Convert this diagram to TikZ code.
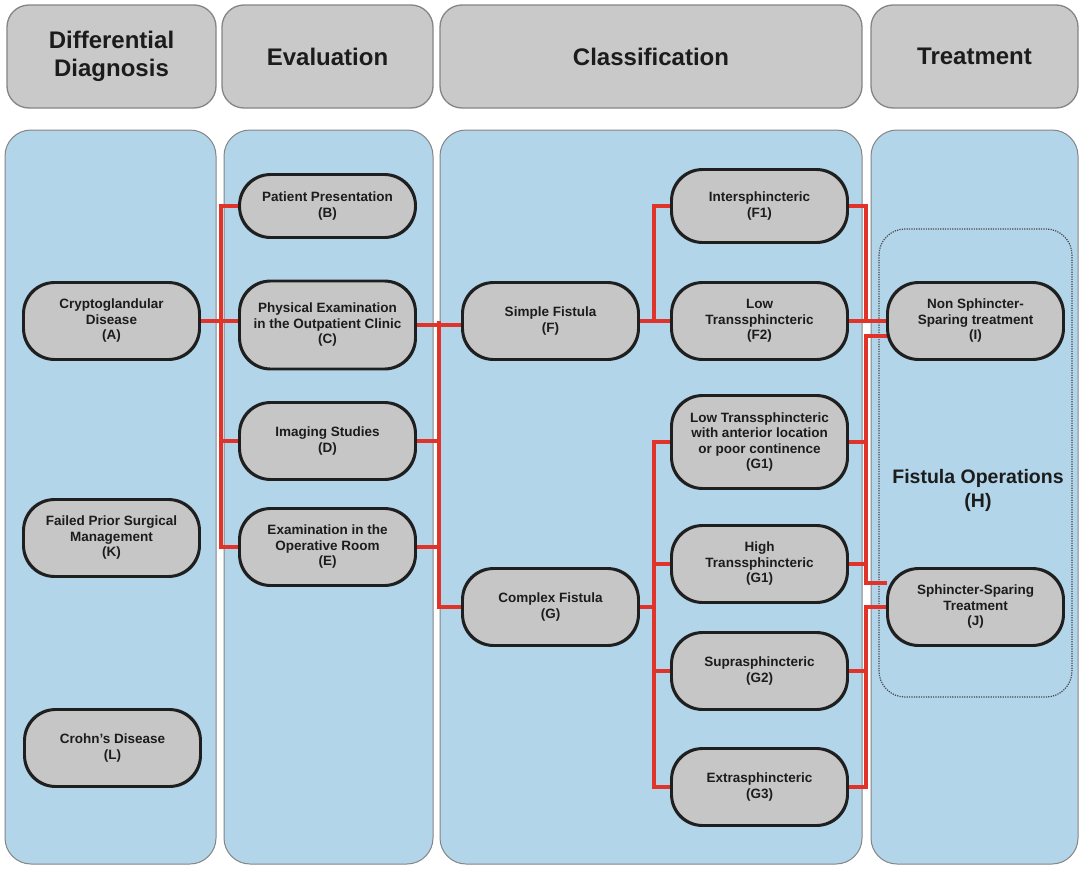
\documentclass[tikz,border=0pt]{standalone}
\usepackage{fontspec}
\setmainfont{Liberation Sans}
\usetikzlibrary{calc}
\definecolor{panelblue}{HTML}{B2D5EA}
\definecolor{panelline}{HTML}{858585}
\definecolor{boxgray}{HTML}{C6C6C6}
\definecolor{headgray}{HTML}{C9C9C9}
\definecolor{linkred}{HTML}{E0332A}
\definecolor{inkdark}{HTML}{1C1C1C}
\begin{document}
\begin{tikzpicture}[x=1pt,y=-1pt,
  header/.style={draw=panelline, line width=1.3pt, fill=headgray, rounded corners=22pt,
    minimum height=103pt, align=center, inner sep=0pt, text=inkdark,
    font=\fontsize{24}{28}\selectfont\bfseries},
  panel/.style={draw=panelline, line width=1pt, fill=panelblue, rounded corners=26pt},
  boxline/.style={draw=black!88, line width=1.9pt, rounded corners=31pt},
  item/.style={boxline, fill=boxgray,
    minimum width=175pt, minimum height=76pt, align=center, inner sep=0pt, text=inkdark,
    font=\fontsize{13.5}{15.5}\selectfont\bfseries},
  group/.style={draw=black!72, line width=1.2pt, dash pattern=on 1.2pt off 1.2pt, rounded corners=26pt},
  link/.style={draw=linkred, line width=3.5pt, line join=miter},
]
\useasboundingbox (0,0) rectangle (1081,870);
\fill[white] (0,0) rectangle (1081,870);

% column headings
\node[header, minimum width=209pt] (hdiag)  at (111.5,56.5) {Differential\\Diagnosis};
\node[header, minimum width=211pt] (heval)  at (327.5,56.5) {Evaluation};
\node[header, minimum width=422pt] (hclass) at (651,56.5)   {Classification};
\node[header, minimum width=207pt] (htreat) at (974.5,56.5) {Treatment};

% column panels
\draw[panel] (5,130)   rectangle (216,864);
\draw[panel] (224,130) rectangle (433,864);
\draw[panel] (440,130) rectangle (862,864);
\draw[panel] (871,130) rectangle (1078,864);

% group of fistula operations
\draw[group] (879,229) rectangle (1072,697);
\node[font=\fontsize{19.5}{24}\selectfont\bfseries, text=inkdark, align=center] (H)
  at (978,490) {Fistula Operations\\(H)};

% bus positions
\coordinate (busL) at (221,0);
\coordinate (busM) at (439,0);
\coordinate (busC) at (654,0);
\coordinate (busR) at (866,0);

% nodes
\node[item] (A) at (111.5,321) {Cryptoglandular\\Disease\\(A)};
\node[item] (K) at (111.5,538) {Failed Prior Surgical\\Management\\(K)};
\node[item] (L) at (112.5,748) {Crohn's Disease\\(L)};

\node[item, minimum height=62pt] (B) at (327.5,206) {Patient Presentation\\(B)};
\node[item, minimum height=87pt] (C) at (327.5,325) {Physical Examination\\in the Outpatient Clinic\\(C)};
\node[item] (D) at (327.5,441) {Imaging Studies\\(D)};
\node[item] (E) at (327.5,547) {Examination in the\\Operative Room\\(E)};

\node[item] (F) at (550.5,321) {Simple Fistula\\(F)};
\node[item] (G) at (550.5,607) {Complex Fistula\\(G)};

\node[item, minimum height=72pt] (F1) at (759.5,206) {Intersphincteric\\(F1)};
\node[item] (F2) at (759.5,321) {Low\\Transsphincteric\\(F2)};
\node[item, minimum height=92pt] (G1a) at (759.5,442) {Low Transsphincteric\\with anterior location\\or poor continence\\(G1)};
\node[item] (G1b) at (759.5,564) {High\\Transsphincteric\\(G1)};
\node[item] (G2) at (759.5,671) {Suprasphincteric\\(G2)};
\node[item] (G3) at (759.5,787) {Extrasphincteric\\(G3)};

\node[item] (I) at (975.5,321) {Non Sphincter-\\Sparing treatment\\(I)};
\node[item] (J) at (975.5,607) {Sphincter-Sparing\\Treatment\\(J)};

% differential diagnosis to evaluation
\draw[link] (A.east) -- (A.east -| C.west);
\draw[link] (B.west) -- (B.west -| busL) -- (E.west -| busL) -- (E.west);
\draw[link] (D.west) -- (D.west -| busL);

% evaluation to classification
\draw[link] (C.east) -- (C.east -| F.west);
\draw[link] (F.west -| busM) -- (G.west -| busM) -- (G.west);
\draw[link] (D.east) -- (D.east -| busM);
\draw[link] (E.east) -- (E.east -| busM);

% simple and complex fistula subtypes
\draw[link] (F.east) -- (F2.west);
\draw[link] (F1.west) -- (F1.west -| busC) -- (F2.west -| busC);
\draw[link] (G.east) -- (G.east -| busC);
\draw[link] (G1a.west) -- (G1a.west -| busC) -- (G3.west -| busC) -- (G3.west);
\draw[link] (G1b.west) -- (G1b.west -| busC);
\draw[link] (G2.west) -- (G2.west -| busC);

% subtypes to treatment
\draw[link] (F1.east) -- (F1.east -| busR) -- (F2.east -| busR);
\draw[link] (F2.east) -- (I.west);
\draw[link] ([yshift=-15pt]I.west) -- ([yshift=-15pt]I.west -| busR)
  -- ([yshift=24pt]J.west -| busR) -- ([yshift=24pt]J.west);
\draw[link] (G1a.east) -- (G1a.east -| busR);
\draw[link] (G1b.east) -- (G1b.east -| busR);
\draw[link] (J.west) -- (J.west -| busR) -- (G3.east -| busR) -- (G3.east);
\draw[link] (G2.east) -- (G2.east -| busR);

% outlines over the connector ends
\foreach \n in {A,K,L,B,C,D,E,F,G,F1,F2,G1a,G1b,G2,G3,I,J}{
  \draw[boxline] (\n.south west) rectangle (\n.north east);
}
\end{tikzpicture}
\end{document}
